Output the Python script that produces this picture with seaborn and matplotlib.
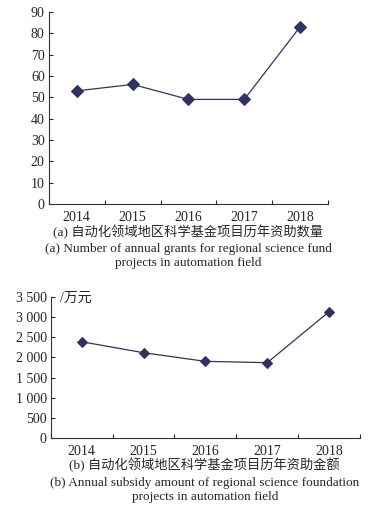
import matplotlib
matplotlib.use("Agg")
import matplotlib.pyplot as plt
from matplotlib.ticker import FixedLocator
import pandas as pd
import seaborn as sns

years = ["2014", "2015", "2016", "2017", "2018"]
grant_counts = [53, 56, 49, 49, 83]
grant_amounts = [2390, 2117, 1903, 1870, 3136]

count_ticks = list(range(0, 91, 10))
amount_ticks = list(range(0, 3501, 500))
amount_labels = ["0", "500", "1 000", "1 500", "2 000", "2 500", "3 000", "3 500"]

cap_a_cn = "(a) 自动化领域地区科学基金项目历年资助数量"
cap_a_en = "(a) Number of annual grants for regional science fund\nprojects in automation field"
cap_b_cn = "(b) 自动化领域地区科学基金项目历年资助金额"
cap_b_en = "(b) Annual subsidy amount of regional science foundation\nprojects in automation field"
unit_b = "/万元"

sns.set_style("ticks")
plt.rcParams['font.family'] = ['Liberation Serif', 'Noto Sans CJK SC']
plt.rcParams['font.size'] = 10

color = "#2e3164"

df = pd.DataFrame({"year": years, "count": grant_counts, "amount": grant_amounts})

fig = plt.figure(figsize=(3.85, 5.14), dpi=100)
ax1 = fig.add_axes([0.127, 0.603, 0.725, 0.374])
ax2 = fig.add_axes([0.132, 0.148, 0.803, 0.274])


def style_axis(ax):
    ax.set_xlim(-0.5, 4.5)
    ax.set_xticks(range(len(years)))
    ax.set_xticklabels(years)
    ax.xaxis.set_minor_locator(FixedLocator([i - 0.5 for i in range(len(years) + 1)]))
    ax.tick_params(axis="x", which="major", length=0, pad=5, labelsize=10)
    ax.tick_params(axis="x", which="minor", direction="in", length=3, width=0.8)
    ax.tick_params(axis="y", direction="in", length=3, width=0.8, labelsize=10, pad=3)
    for s in ["top", "right"]:
        ax.spines[s].set_visible(False)
    for s in ["left", "bottom"]:
        ax.spines[s].set_linewidth(0.8)
        ax.spines[s].set_color("#333333")
    ax.set_xlabel("")
    ax.set_ylabel("")


sns.lineplot(data=df, x="year", y="count", ax=ax1, color=color, marker="D",
             markersize=6.5, markeredgecolor=color, linewidth=0.9, sort=False)
ax1.set_ylim(0, 90)
ax1.set_yticks(count_ticks)
style_axis(ax1)

sns.lineplot(data=df, x="year", y="amount", ax=ax2, color=color, marker="D",
             markersize=5.5, markeredgecolor=color, linewidth=0.9, sort=False)
ax2.set_ylim(0, 3500)
ax2.set_yticks(amount_ticks)
ax2.set_yticklabels(amount_labels)
style_axis(ax2)
ax2.text(0.03, 0.99, unit_b, transform=ax2.transAxes, fontsize=10, va="center", ha="left")

fig.text(0.489, 1 - 232 / 514, cap_a_cn, ha="center", va="center", fontsize=9.5)
fig.text(0.489, 1 - 256 / 514, cap_a_en, ha="center", va="center", fontsize=9.5, linespacing=1.25)
fig.text(0.531, 1 - 465 / 514, cap_b_cn, ha="center", va="center", fontsize=9.5)
fig.text(0.532, 1 - 490 / 514, cap_b_en, ha="center", va="center", fontsize=9.5, linespacing=1.25)

fig.savefig("out.png", dpi=100)
